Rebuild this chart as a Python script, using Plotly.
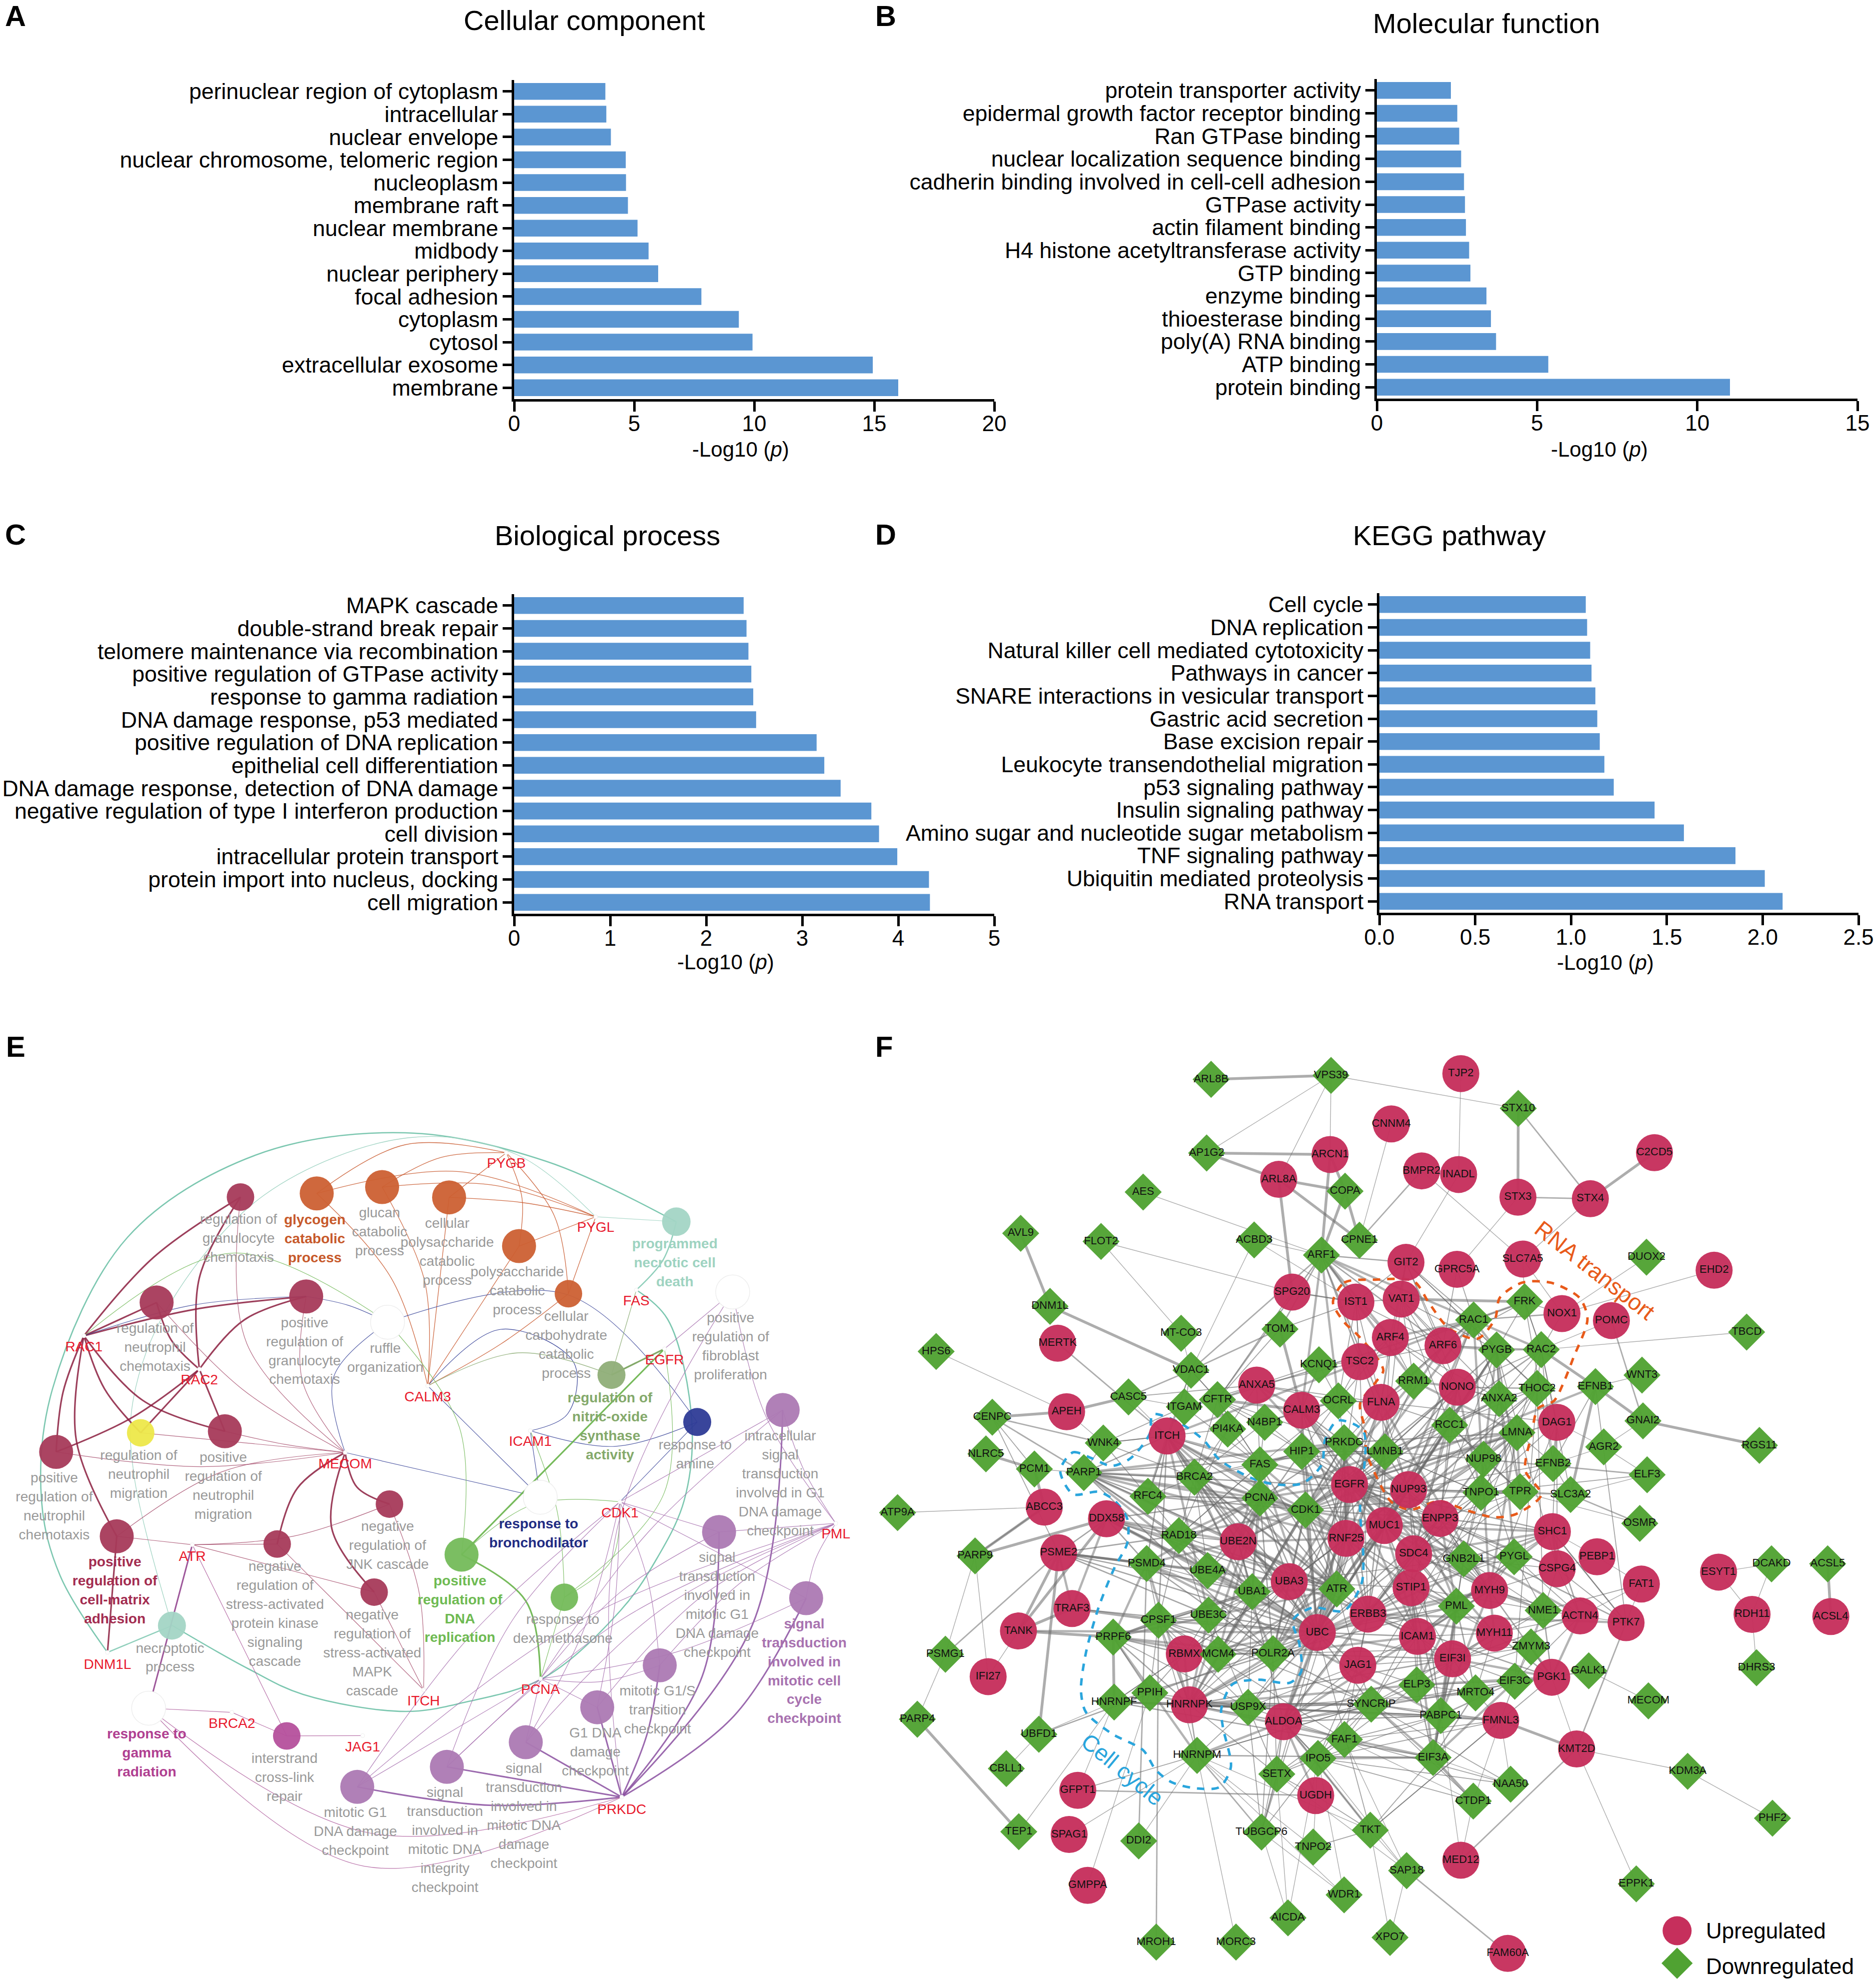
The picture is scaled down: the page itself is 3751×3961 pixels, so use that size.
import plotly.graph_objects as go

W, H = 3751, 3961
FONT = "Liberation Sans"

# ---------------- bar chart data ----------------
A_CATS = ["perinuclear region of cytoplasm", "intracellular", "nuclear envelope", "nuclear chromosome, telomeric region",
          "nucleoplasm", "membrane raft", "nuclear membrane", "midbody", "nuclear periphery", "focal adhesion",
          "cytoplasm", "cytosol", "extracellular exosome", "membrane"]
A_VALS = [3.8, 3.84, 4.03, 4.65, 4.66, 4.74, 5.14, 5.6, 6.0, 7.8, 9.36, 9.93, 14.94, 16.0]
B_CATS = ["protein transporter activity", "epidermal growth factor receptor binding", "Ran GTPase binding",
          "nuclear localization sequence binding", "cadherin binding involved in cell-cell adhesion", "GTPase activity",
          "actin filament binding", "H4 histone acetyltransferase activity", "GTP binding", "enzyme binding",
          "thioesterase binding", "poly(A) RNA binding", "ATP binding", "protein binding"]
B_VALS = [2.31, 2.51, 2.57, 2.63, 2.72, 2.75, 2.78, 2.88, 2.92, 3.42, 3.56, 3.72, 5.35, 11.02]
C_CATS = ["MAPK cascade", "double-strand break repair", "telomere maintenance via recombination",
          "positive regulation of GTPase activity", "response to gamma radiation", "DNA damage response, p53 mediated",
          "positive regulation of DNA replication", "epithelial cell differentiation",
          "DNA damage response, detection of DNA damage", "negative regulation of type I interferon production",
          "cell division", "intracellular protein transport", "protein import into nucleus, docking", "cell migration"]
C_VALS = [2.39, 2.42, 2.44, 2.47, 2.49, 2.52, 3.15, 3.23, 3.40, 3.72, 3.80, 3.99, 4.32, 4.33]
D_CATS = ["Cell cycle", "DNA replication", "Natural killer cell mediated cytotoxicity", "Pathways in cancer",
          "SNARE interactions in vesicular transport", "Gastric acid secretion", "Base excision repair",
          "Leukocyte transendothelial migration", "p53 signaling pathway", "Insulin signaling pathway",
          "Amino sugar and nucleotide sugar metabolism", "TNF signaling pathway", "Ubiquitin mediated proteolysis",
          "RNA transport"]
D_VALS = [1.077, 1.084, 1.10, 1.107, 1.127, 1.137, 1.15, 1.174, 1.223, 1.436, 1.589, 1.858, 2.011, 2.104]

# ---------------- network layouts ----------------
CROPS = {"z1": (0, 2050, 1000, 950), "z2": (850, 2150, 950, 900), "z3": (0, 2950, 1000, 1011), "z4": (800, 3000, 1000, 961),
         "z5": (1750, 2080, 1000, 950), "z6": (2750, 2080, 1000, 950), "z7": (1750, 3000, 1000, 961), "z8": (2750, 3000, 1000, 961)}


def at(c, x, y):
    ox, oy, w, h = CROPS[c]
    return ox + x * w / 1568, oy + y * h / 1568


MAROON, ORANGE, TEAL, PURPLE, GREEN, OLIVE = "#A63A5A", "#CC6033", "#A3D5C5", "#AC79B3", "#74BA5A", "#8FAE78"
E_TERMS = [
    ("regGran", "z1", 754, 567, 55, MAROON), ("glycogen", "z1", 993, 555, 68, ORANGE), ("glucan", "z1", 1198, 534, 68, ORANGE),
    ("cellPoly", "z1", 1408, 568, 68, ORANGE), ("poly", "z2", 310, 595, 68, ORANGE), ("carbo", "z2", 473, 761, 55, ORANGE),
    ("necrotic", "z2", 829, 510, 57, TEAL), ("fibro", "z2", 1015, 755, 68, "#FFFFFF"), ("nitric", "z2", 615, 1044, 56, OLIVE),
    ("amine", "z2", 898, 1208, 56, "#2E3B96"), ("intra", "z2", 1180, 1166, 68, PURPLE), ("broncho", "z2", 380, 1470, 68, "#FFFFFF"),
    ("regNeuChem", "z1", 491, 915, 68, MAROON), ("posGran", "z1", 960, 895, 68, MAROON), ("ruffle", "z1", 1215, 980, 68, "#FFFFFF"),
    ("posNeuChem", "z1", 176, 1408, 68, MAROON), ("yellow", "z1", 441, 1345, 55, "#EDE84A"), ("posNeuMig", "z1", 705, 1340, 68, MAROON),
    ("matrix", "z3", 366, 189, 68, MAROON), ("kinase", "z3", 869, 213, 55, MAROON), ("jnk", "z3", 1221, 89, 55, MAROON),
    ("mapk", "z3", 1173, 362, 55, MAROON), ("necro", "z3", 539, 466, 56, TEAL), ("gamma", "z3", 466, 722, 68, "#FFFFFF"),
    ("cross", "z3", 899, 808, 55, "#B5509C"), ("mG1", "z3", 1120, 966, 68, PURPLE), ("sigInt", "z3", 1401, 904, 68, PURPLE),
    ("dnaRep", "z3", 1447, 246, 68, GREEN), ("sigDmg", "z4", 394, 789, 68, PURPLE), ("g1dna", "z4", 618, 675, 68, PURPLE),
    ("g1s", "z4", 814, 538, 68, PURPLE), ("sigMG1", "z4", 1000, 103, 68, PURPLE), ("sigCC", "z4", 1273, 319, 68, PURPLE),
    ("dex", "z4", 515, 316, 55, GREEN),
]
E_GENES = [
    ("PYGB", "z2", 268, 270, 310), ("PYGL", "z2", 563, 493, 533), ("FAS", "z2", 697, 748, 790), ("EGFR", "z2", 790, 953, 995),
    ("ICAM1", "z2", 347, 1238, 1278), ("CDK1", "z2", 643, 1486, 1528), ("CALM3", "z1", 1341, 1190, 1230),
    ("RAC1", "z1", 263, 1025, 1065), ("RAC2", "z1", 625, 1135, 1174), ("MECOM", "z1", 1082, 1410, 1451),
    ("ATR", "z3", 603, 215, 254), ("ITCH", "z3", 1328, 665, 702), ("DNM1L", "z3", 337, 549, 589),
    ("BRCA2", "z3", 727, 735, 773), ("JAG1", "z3", 1137, 807, 845), ("PCNA", "z4", 440, 582, 620),
    ("PRKDC", "z4", 695, 968, 1012), ("PML", "z4", 1366, 75, 113),
]
GREY = "#999999"
E_LABELS = [
    ("regulation of|granulocyte|chemotaxis", "z1", 748, 644, GREY, 0), ("glycogen|catabolic|process", "z1", 987, 646, "#C7592A", 1),
    ("glucan|catabolic|process", "z1", 1190, 623, GREY, 0), ("cellular|polysaccharide|catabolic|process", "z1", 1402, 657, GREY, 0),
    ("polysaccharide|catabolic|process", "z2", 304, 688, GREY, 0), ("cellular|carbohydrate|catabolic|process", "z2", 466, 843, GREY, 0),
    ("programmed|necrotic cell|death", "z2", 824, 591, "#9ED3C1", 1),
    ("positive|regulation of|fibroblast|proliferation", "z2", 1008, 849, GREY, 0),
    ("regulation of|nitric-oxide|synthase|activity", "z2", 610, 1127, "#84A96B", 1),
    ("response to|amine", "z2", 891, 1291, GREY, 0),
    ("intracellular|signal|transduction|involved in G1|DNA damage|checkpoint", "z2", 1172, 1260, GREY, 0),
    ("regulation of|neutrophil|chemotaxis", "z1", 486, 1004, GREY, 0),
    ("positive|regulation of|granulocyte|chemotaxis", "z1", 955, 985, GREY, 0),
    ("ruffle|organization", "z1", 1208, 1069, GREY, 0),
    ("positive|regulation of|neutrophil|chemotaxis", "z3", 170, 11, GREY, 0),
    ("regulation of|neutrophil|migration", "z1", 435, 1423, GREY, 0),
    ("positive|regulation of|neutrophil|migration", "z1", 700, 1430, GREY, 0),
    ("positive|regulation of|cell-matrix|adhesion", "z3", 360, 272, "#A32C50", 1),
    ("negative|regulation of|stress-activated|protein kinase|signaling|cascade", "z3", 862, 286, GREY, 0),
    ("negative|regulation of|JNK cascade", "z3", 1215, 161, GREY, 0),
    ("negative|regulation of|stress-activated|MAPK|cascade", "z3", 1167, 436, GREY, 0),
    ("necroptotic|process", "z3", 533, 539, GREY, 0),
    ("response to|gamma|radiation", "z3", 460, 805, "#B04091", 1),
    ("interstrand|cross-link|repair", "z3", 892, 881, GREY, 0),
    ("mitotic G1|DNA damage|checkpoint", "z3", 1114, 1048, GREY, 0),
    ("signal|transduction|involved in|mitotic DNA|integrity|checkpoint", "z3", 1395, 987, GREY, 0),
    ("positive|regulation of|DNA|replication", "z3", 1442, 330, "#6EBA52", 1),
    ("signal|transduction|involved in|mitotic DNA|damage|checkpoint", "z4", 388, 878, GREY, 0),
    ("G1 DNA|damage|checkpoint", "z4", 612, 762, GREY, 0),
    ("mitotic G1/S|transition|checkpoint", "z4", 807, 625, GREY, 0),
    ("signal|transduction|involved in|mitotic G1|DNA damage|checkpoint", "z4", 994, 190, GREY, 0),
    ("signal|transduction|involved in|mitotic cell|cycle|checkpoint", "z4", 1267, 406, "#A872B0", 1),
    ("response to|dexamethasone", "z4", 510, 392, GREY, 0),
    ("response to|bronchodilator", "z4", 434, 80, "#1F2C83", 1),
]
# (from, to, bend as a share of the chord, group)
E_EDGES = [
    ("RAC1", "regGran", .06, "rt"), ("RAC1", "regNeuChem", 0, "rt"), ("RAC1", "posGran", .03, "rt"), ("RAC1", "posNeuChem", -.06, "rt"),
    ("RAC1", "matrix", -.12, "rt"), ("RAC1", "yellow", -.08, "rt"), ("RAC1", "posNeuMig", -.12, "rt"),
    ("RAC2", "regGran", .12, "rt"), ("RAC2", "regNeuChem", .1, "rt"), ("RAC2", "posGran", .12, "rt"), ("RAC2", "posNeuChem", .05, "rt"),
    ("RAC2", "yellow", 0, "rt"), ("RAC2", "posNeuMig", 0, "rt"), ("DNM1L", "matrix", 0, "rt"),
    ("MECOM", "kinase", -.15, "rt"), ("MECOM", "jnk", -.2, "rt"), ("MECOM", "mapk", -.2, "rt"),
    ("MECOM", "regGran", .18, "r"), ("MECOM", "regNeuChem", .06, "r"), ("MECOM", "posGran", .15, "r"), ("MECOM", "posNeuChem", .05, "r"),
    ("MECOM", "yellow", 0, "r"), ("MECOM", "posNeuMig", .02, "r"), ("MECOM", "matrix", -.1, "r"),
    ("ATR", "kinase", 0, "r"), ("ATR", "jnk", -.06, "r"), ("ATR", "matrix", 0, "r"), ("ATR", "mapk", 0, "r"),
    ("ITCH", "kinase", 0, "r"), ("ITCH", "jnk", -.07, "r"), ("ITCH", "mapk", 0, "r"),
    ("glycogen", "PYGB", .15, "o"), ("glycogen", "PYGL", .12, "o"), ("glucan", "PYGB", .1, "o"), ("glucan", "PYGL", .08, "o"),
    ("cellPoly", "PYGB", 0, "o"), ("cellPoly", "PYGL", .03, "o"), ("poly", "PYGB", -.1, "o"), ("poly", "PYGL", 0, "o"),
    ("carbo", "PYGB", -.12, "o"), ("carbo", "PYGL", 0, "o"), ("glycogen", "CALM3", .1, "o"), ("glucan", "CALM3", .1, "o"),
    ("cellPoly", "CALM3", 0, "o"), ("poly", "CALM3", 0, "o"), ("carbo", "CALM3", .03, "o"),
    ("RAC1", "posGran", .05, "n"), ("posGran", "ruffle", .05, "n"), ("ruffle", "MECOM", -.25, "n"), ("ruffle", "amine", .25, "n"),
    ("ICAM1", "amine", -.12, "n"), ("CDK1", "amine", 0, "n"), ("ICAM1", "broncho", 0, "n"), ("CALM3", "broncho", 0, "n"), ("MECOM", "broncho", 0, "n"),
    ("RAC1", "ruffle", .25, "g"), ("ruffle", "dnaRep", .15, "g"), ("CALM3", "nitric", .15, "ol"), ("nitric", "EGFR", 0, "olt"),
    ("FAS", "nitric", 0, "ol"), ("EGFR", "dnaRep", 0, "gt"), ("EGFR", "dex", .2, "g"), ("ICAM1", "dex", .06, "g"),
    ("CDK1", "dnaRep", -.15, "g"), ("PCNA", "dnaRep", -.2, "gt"), ("PCNA", "dex", 0, "g"), ("CDK1", "dex", .2, "g"),
    ("DNM1L", "necro", 0, "tm"), ("PYGL", "necrotic", 0, "tl"), ("FAS", "necrotic", -.1, "tm"),
    ("PRKDC", "intra", -.13, "pt"), ("PRKDC", "sigMG1", -.12, "pt"), ("PRKDC", "sigCC", -.1, "pt"), ("PRKDC", "g1s", -.05, "pt"),
    ("PRKDC", "g1dna", 0, "pt"), ("PRKDC", "sigDmg", 0, "pt"), ("PRKDC", "sigInt", 0, "pt"), ("PRKDC", "mG1", .05, "pt"),
    ("CDK1", "intra", 0, "p"), ("CDK1", "sigMG1", 0, "p"), ("CDK1", "sigCC", 0, "p"), ("CDK1", "g1s", .05, "p"), ("CDK1", "g1dna", .03, "p"),
    ("CDK1", "sigDmg", .05, "p"), ("CDK1", "sigInt", -.08, "p"), ("CDK1", "mG1", -.05, "p"),
    ("PCNA", "intra", .05, "p"), ("PCNA", "sigMG1", .07, "p"), ("PCNA", "sigCC", -.05, "p"), ("PCNA", "g1s", -.08, "p"), ("PCNA", "g1dna", 0, "p"),
    ("PCNA", "sigDmg", 0, "p"), ("PCNA", "sigInt", 0, "p"), ("PCNA", "mG1", 0, "p"),
    ("PML", "intra", .05, "p"), ("PML", "sigMG1", 0, "p"), ("PML", "sigCC", -.07, "p"), ("PML", "g1s", -.06, "p"), ("PML", "g1dna", -.08, "p"),
    ("PML", "sigDmg", -.08, "p"), ("PML", "sigInt", -.07, "p"), ("PML", "mG1", -.07, "p"),
    ("fibro", "EGFR", 0, "p"), ("fibro", "PML", -.08, "p"), ("fibro", "PRKDC", -.12, "p"),
    ("ATR", "gamma", 0, "mt"), ("ATR", "cross", 0, "m"), ("BRCA2", "gamma", 0, "m"), ("BRCA2", "cross", 0, "m"), ("JAG1", "cross", 0, "m"),
    ("gamma", "PRKDC", -.17, "m"), ("gamma", "PRKDC", -.24, "m"),
]
E_STYLE = {"rt": ("#8B1E3F", 3.2), "r": ("#A8506F", 1.2), "o": ("#C8562A", 1.3), "n": ("#3A4599", 1.2), "g": ("#74BA5A", 1.2),
           "gt": ("#5FAF3F", 3.2), "ol": ("#8FAE78", 1.3), "olt": ("#6E9B50", 3.2), "tm": ("#7CC7B0", 2.5), "tl": ("#A3D5C5", 1.2),
           "pt": ("#8A4FA0", 3.0), "p": ("#A872B0", 1.2), "mt": ("#8E3B8A", 3.0), "m": ("#B0609F", 1.2)}
# long arcs that need several way-points
E_ARCS = [
    ("#7CC7B0", 2.6, [(215, 3304), (120, 3150), (83, 3000), (105, 2777), (255, 2474), (510, 2310), (810, 2265), (1092, 2322), (1352, 2443)]),
    ("#A3D5C5", 1.3, [(344, 3250), (268, 2950), (265, 2807), (332, 2620), (529, 2389), (816, 2275), (1032, 2308), (1191, 2433)]),
    ("#7CC7B0", 2.6, [(1272, 2579), (1335, 2638), (1383, 2839), (1368, 3000), (1310, 3122), (1240, 3221), (1087, 3355), (928, 3404),
                      (810, 3422), (606, 3388), (497, 3337), (344, 3250)]),
    ("#3A4599", 1.2, [(855, 2771), (1001, 2658), (1147, 2724), (1135, 2827), (1060, 2861)]),
]

F_NODES = {
    "z5": [("ARL8B", 1053, 129, "d"), ("VPS39", 1429, 116, "d"), ("AP1G2", 1039, 372, "d"), ("ARCN1", 1426, 377, "c"), ("ARL8A", 1265, 459, "c"),
           ("COPA", 1473, 498, "d"), ("AES", 840, 501, "d"), ("AVL9", 456, 637, "d"), ("FLOT2", 708, 664, "d"), ("ACBD3", 1188, 659, "d"),
           ("CPNE1", 1518, 660, "d"), ("ARF1", 1399, 709, "d"), ("SPG20", 1307, 831, "c"), ("IST1", 1507, 864, "c"), ("DNM1L", 548, 878, "d"),
           ("MT-CO3", 959, 967, "d"), ("TOM1", 1269, 953, "d"), ("MERTK", 572, 1000, "c"), ("HPS6", 191, 1027, "d"), ("TSC2", 1519, 1061, "c"),
           ("KCNQ1", 1391, 1071, "d"), ("VDAC1", 990, 1089, "d"), ("ANXA5", 1196, 1138, "c"), ("CASC5", 794, 1177, "d"), ("CFTR", 1073, 1186, "d"),
           ("OCRL", 1452, 1190, "d"), ("ITGAM", 969, 1210, "d"), ("APEH", 600, 1226, "c"), ("CALM3", 1337, 1221, "c"), ("CENPC", 367, 1244, "d"),
           ("N4BP1", 1221, 1261, "d"), ("PI4KA", 1105, 1283, "d"), ("ITCH", 915, 1306, "c"), ("WNK4", 715, 1329, "d"), ("PRKDC", 1470, 1328, "d"),
           ("HIP1", 1337, 1357, "d"), ("NLRC5", 347, 1365, "d"), ("FAS", 1206, 1401, "d"), ("PCM1", 499, 1415, "d"), ("PARP1", 654, 1427, "d"),
           ("BRCA2", 1001, 1442, "d"), ("EGFR", 1487, 1466, "c"), ("RFC4", 855, 1505, "d"), ("PCNA", 1206, 1511, "d"), ("CDK1", 1349, 1550, "d")],
    "z7": [("ABCC3", 530, 22, "c"), ("ATP9A", 70, 40, "d"), ("DDX58", 725, 60, "c"), ("RAD18", 952, 115, "d"), ("UBE2N", 1138, 135, "c"),
           ("RNF25", 1476, 124, "c"), ("PSME2", 575, 171, "c"), ("PARP9", 313, 181, "d"), ("PSMD4", 851, 206, "d"), ("UBE4A", 1042, 229, "d"),
           ("UBA3", 1298, 265, "c"), ("ATR", 1447, 289, "d"), ("UBA1", 1182, 298, "d"), ("TRAF3", 617, 353, "c"), ("CPSF1", 888, 391, "d"),
           ("UBE3C", 1045, 374, "d"), ("TANK", 449, 426, "c"), ("UBC", 1386, 431, "c"), ("ERBB3", 1545, 371, "c"), ("PRPF6", 746, 446, "d"),
           ("RBMX", 969, 501, "c"), ("MCM4", 1075, 502, "d"), ("POLR2A", 1247, 500, "d"), ("PSMG1", 220, 502, "d"), ("JAG1", 1513, 538, "c"),
           ("IFI27", 354, 575, "c"), ("PPIH", 861, 628, "d"), ("HNRNPF", 749, 658, "d"), ("HNRNPK", 985, 667, "c"), ("USP9X", 1169, 675, "d"),
           ("SYNCRIP", 1555, 665, "d"), ("PARP4", 132, 714, "d"), ("ALDOA", 1280, 722, "c"), ("UBFD1", 513, 763, "d"), ("FAF1", 1471, 780, "d"),
           ("IPO5", 1388, 842, "d"), ("HNRNPM", 1009, 832, "d"), ("CBLL1", 411, 875, "d"), ("SETX", 1259, 893, "d"), ("GFPT1", 635, 946, "c"),
           ("UGDH", 1381, 963, "c"), ("TEP1", 450, 1081, "d"), ("TKT", 1552, 1076, "d"), ("TUBGCP6", 1211, 1082, "d"), ("SPAG1", 608, 1090, "c"),
           ("DDI2", 826, 1111, "d"), ("TNPO2", 1373, 1131, "d"), ("GMPPA", 666, 1256, "c"), ("WDR1", 1470, 1287, "d"), ("AICDA", 1294, 1362, "d"),
           ("MROH1", 881, 1441, "d"), ("MORC3", 1131, 1441, "d")],
    "z6": [("TJP2", 268, 110, "c"), ("STX10", 448, 225, "d"), ("CNNM4", 50, 276, "c"), ("C2CD5", 875, 371, "c"), ("BMPR2", 145, 431, "c"),
           ("INADL", 261, 443, "c"), ("STX3", 447, 518, "c"), ("STX4", 674, 523, "c"), ("DUOX2", 850, 716, "d"), ("GIT2", 96, 733, "c"),
           ("EHD2", 1062, 759, "c"), ("GPRC5A", 256, 756, "c"), ("SLC7A5", 462, 722, "c"), ("VAT1", 81, 854, "c"), ("FRK", 468, 863, "d"),
           ("NOX1", 585, 902, "c"), ("RAC1", 308, 923, "d"), ("POMC", 740, 925, "c"), ("TBCD", 1164, 963, "d"), ("ARF4", 47, 981, "c"),
           ("ARF6", 212, 1008, "c"), ("PYGB", 380, 1022, "d"), ("RAC2", 520, 1021, "d"), ("WNT3", 836, 1105, "d"), ("RRM1", 120, 1125, "d"),
           ("NONO", 257, 1145, "c"), ("EFNB1", 690, 1143, "d"), ("THOC2", 507, 1149, "d"), ("ANXA2", 388, 1183, "d"), ("FLNA", 18, 1195, "c"),
           ("RCC1", 233, 1270, "d"), ("GNAI2", 839, 1256, "d"), ("DAG1", 569, 1261, "c"), ("LMNA", 444, 1295, "d"), ("AGR2", 716, 1342, "d"),
           ("RGS11", 1204, 1337, "d"), ("NUP98", 339, 1383, "d"), ("LMNB1", 30, 1358, "d"), ("EFNB2", 557, 1397, "d"), ("ELF3", 852, 1434, "d"),
           ("NUP93", 104, 1483, "c"), ("TNPO1", 331, 1493, "d"), ("TPR", 454, 1490, "d"), ("SLC3A2", 612, 1499, "d")],
    "z8": [("OSMR", 829, 75, "d"), ("ENPP3", 203, 59, "c"), ("MUC1", 28, 82, "c"), ("SHC1", 555, 102, "c"), ("SDC4", 120, 174, "c"),
           ("PEBP1", 695, 184, "c"), ("PYGL", 435, 184, "d"), ("GNB2L1", 277, 191, "d"), ("ESYT1", 1076, 234, "c"), ("DCAKD", 1242, 207, "d"),
           ("ACSL5", 1418, 207, "d"), ("CSPG4", 570, 223, "c"), ("FAT1", 834, 273, "c"), ("STIP1", 112, 285, "c"), ("MYH9", 358, 294, "c"),
           ("PML", 254, 345, "d"), ("NME1", 526, 359, "d"), ("RDH11", 1181, 372, "c"), ("ACTN4", 642, 377, "c"), ("ACSL4", 1428, 379, "c"),
           ("PTK7", 786, 399, "c"), ("MYH11", 373, 433, "c"), ("ICAM1", 132, 444, "c"), ("ZMYM3", 488, 478, "d"), ("EIF3I", 242, 517, "c"),
           ("DHRS3", 1195, 546, "d"), ("GALK1", 669, 556, "d"), ("PGK1", 553, 577, "c"), ("EIF3C", 437, 590, "d"), ("ELP3", 130, 602, "d"),
           ("MRTO4", 314, 628, "d"), ("MECOM", 856, 654, "d"), ("PABPC1", 205, 702, "d"), ("FMNL3", 393, 718, "c"), ("KMT2D", 631, 811, "c"),
           ("EIF3A", 181, 839, "d"), ("KDM3A", 979, 884, "d"), ("NAA50", 424, 926, "d"), ("CTDP1", 307, 981, "d"), ("PHF2", 1245, 1037, "d"),
           ("MED12", 268, 1174, "c"), ("SAP18", 98, 1208, "d"), ("EPPK1", 818, 1251, "d"), ("XPO7", 46, 1426, "d"), ("FAM60A", 415, 1478, "c")],
}
F_THICK = """AVL9:DNM1L AP1G2:ARCN1 AP1G2:ARL8A ARL8A:COPA ARL8A:SPG20 ARL8A:CPNE1 ARCN1:ARF1 ARCN1:COPA COPA:ARF1 COPA:CPNE1
ARL8B:VPS39 STX10:STX3 STX4:C2CD5 DNM1L:VDAC1 CENPC:APEH APEH:CASC5 CFTR:CALM3 TOM1:CALM3 PARP9:DDX58 PARP9:ABCC3 PARP4:TEP1
TANK:PRPF6 TANK:TRAF3 TANK:DDX58 TANK:PSME2 TRAF3:CPSF1 PRPF6:HNRNPF GNAI2:RGS11 ACSL5:ACSL4 FMNL3:KMT2D NLRC5:PCM1 ABCC3:PCM1
RAC2:EFNB1 EFNB1:GNAI2 EFNB1:SLC3A2 PML:EIF3A EIF3A:CTDP1 HNRNPK:USP9X HNRNPK:SYNCRIP UBC:UBA3 UBC:EGFR EGFR:CDK1 VAT1:FRK UBFD1:PSME2"""
F_MEDIUM = """STX10:STX4 STX3:STX4 BMPR2:CPNE1 POMC:GNAI2 CENPC:WNK4 CENPC:PARP1 ABCC3:PARP9 VDAC1:CASC5 VDAC1:TOM1 MERTK:ITCH GFPT1:UGDH SAP18:FAM60A
DDI2:PSMD4 MROH1:CPSF1 GALK1:PGK1 DAG1:EFNB2 ELF3:NUP98 OSMR:SLC3A2 TUBGCP6:HNRNPM KMT2D:MED12 KMT2D:PTK7 PSMG1:PSME2 SPG20:IST1 ARF1:TOM1 ARF1:IST1 ARF1:VDAC1"""
F_THIN = """VPS39:AP1G2 VPS39:ARL8A VPS39:ARCN1 VPS39:STX10 TJP2:INADL CNNM4:CPNE1 INADL:GIT2 BMPR2:SLC7A5 STX3:GPRC5A STX4:SLC7A5 SLC7A5:FRK SLC7A5:NOX1
NOX1:EHD2 NOX1:DUOX2 TBCD:RAC2 POMC:RAC2 WNT3:EFNB1 GNAI2:AGR2 AGR2:ELF3 AGR2:EFNB2 ELF3:SLC3A2 OSMR:TPR DAG1:AGR2 ESYT1:DCAKD ESYT1:RDH11 DCAKD:RDH11 RDH11:DHRS3
MECOM:GALK1 KMT2D:PGK1 KMT2D:KDM3A KDM3A:PHF2 KMT2D:EPPK1 FAT1:PTK7 FAT1:PEBP1 FAT1:ACTN4 PTK7:ACTN4 PEBP1:SHC1 PEBP1:CSPG4 CTDP1:MED12 SAP18:XPO7 SAP18:TKT
NAA50:FMNL3 NAA50:EIF3A FMNL3:CTDP1 HPS6:APEH APEH:WNK4 CASC5:ITGAM CASC5:ITCH FLOT2:SPG20 FLOT2:MT-CO3 MT-CO3:VDAC1 AES:ARF1 ACBD3:ARF1 ACBD3:VDAC1 ACBD3:IST1
ABCC3:ATP9A PCM1:PARP1 PARP9:PSMG1 PARP9:IFI27 PSMG1:PARP4 TANK:IFI27 UBFD1:CBLL1 UBFD1:HNRNPF TEP1:HNRNPF GFPT1:HNRNPF SPAG1:HNRNPM GMPPA:PPIH DDI2:HNRNPM MORC3:HNRNPM
AICDA:SETX AICDA:IPO5 AICDA:TUBGCP6 WDR1:TUBGCP6 WDR1:HNRNPM TNPO2:HNRNPM TNPO2:IPO5 TKT:HNRNPM SAP18:IPO5 SAP18:SETX SAP18:FAF1 MED12:PABPC1 CTDP1:FAF1 WDR1:IPO5 XPO7:TKT"""
# hub : partners in the dense core
F_CORE_MED = {
    "UBC": "UBA1 UBE2N UBE4A UBE3C ATR RNF25 CDK1 PCNA ERBB3 JAG1 POLR2A USP9X ALDOA HNRNPK RBMX MCM4 MUC1 SDC4 STIP1 ICAM1 EIF3I SYNCRIP PSMD4 RAD18 FAS BRCA2 ITCH TRAF3 DDX58 PSME2 CPSF1 PML MYH9 PRKDC NUP93 ENPP3 LMNB1 RCC1 HIP1 UBFD1 TANK PARP1",
    "EGFR": "PCNA ERBB3 NUP93 MUC1 SDC4 SHC1 ICAM1 CALM3 ANXA5 FLNA RAC1 RAC2 ARF6 ANXA2 LMNA CSPG4 ACTN4 DAG1 EFNB1 PTK7 RNF25 ATR UBE2N HIP1 PRKDC FAS ITCH ENPP3 GNB2L1 PYGB UBA3 POLR2A MYH9 PML",
    "CDK1": "PCNA ATR BRCA2 RFC4 PARP1 PRKDC RAD18 LMNB1 LMNA NUP93 UBA3 ERBB3 HNRNPK POLR2A FLNA PML MCM4 NONO RRM1 TPR ITCH UBE2N RNF25 ENPP3 MUC1",
    "PCNA": "BRCA2 RFC4 RAD18 ATR PARP1 FAS UBA1 POLR2A MCM4 PRKDC HNRNPK ITCH UBE2N DDX58 PSMD4 UBA3 RNF25 UBE4A LMNB1",
    "HNRNPK": "HNRNPF HNRNPM RBMX PRPF6 PPIH ALDOA POLR2A PABPC1 EIF3A UBA3 MCM4 FMNL3 ELP3 CPSF1 PSMD4 ERBB3 UBE3C EIF3I",
    "POLR2A": "ATR HNRNPF PRPF6 SYNCRIP BRCA2 CPSF1 UBA3 PARP1 RBMX PSMD4 ICAM1 EIF3I RNF25 PML",
    "ALDOA": "HNRNPM PABPC1 MYH9 PGK1 TKT SETX FLNA ACTN4 UGDH IPO5 ATR UBE2N ERBB3",
    "EIF3A": "EIF3C EIF3I PABPC1 MRTO4 SYNCRIP HNRNPM IPO5 ELP3 STIP1 HNRNPF",
    "PABPC1": "PML SYNCRIP EIF3I EIF3C FMNL3 STIP1 PSMD4 HNRNPF MYH9 NUP93",
    "MYH9": "MYH11 ACTN4 FLNA CALM3 NME1 ICAM1 ERBB3 PGK1 LMNA ENPP3 MUC1 SDC4 RAC1",
    "PYGB": "RAC1 RAC2 ARF6 ANXA2 PYGL THOC2 NUP98 TPR UBC ATR MUC1",
    "ARF1": "ARF4 ARF6 VAT1 GIT2 RAC1 CFTR CALM3 FLNA OCRL NUP93 RRM1",
    "ITCH": "RFC4 PSMD4 UBE2N UBA1 UBE3C CPSF1 RNF25 PARP1 BRCA2 UBA3 ATR",
    "PARP1": "BRCA2 RFC4 PRKDC RAD18 UBE4A NUP93 ATR LMNB1 RNF25 UBE2N",
    "DDX58": "TRAF3 PSME2 UBE2N RAD18 UBE4A PSMD4 UBA1 UBA3 ATR",
    "PSME2": "PSMD4 UBA1 TRAF3 RAD18 UBE4A UBE3C UBA3",
    "LMNA": "LMNB1 NUP98 TPR TNPO1 ANXA2 PRKDC RRM1 ERBB3 MUC1",
    "NUP93": "NUP98 TPR TNPO1 LMNB1 RCC1 SDC4 PML ENPP3 ATR UBA3 RNF25",
    "SHC1": "ERBB3 PTK7 CSPG4 ACTN4 MUC1 GNB2L1 SDC4 ENPP3 PML",
    "PGK1": "ZMYM3 EIF3C ELP3 NME1 ACTN4 ERBB3 EIF3I MYH11",
    "RAC1": "RAC2 NOX1 FRK ARF6 ITCH CFTR FLNA ANXA2 ARF4 NUP93 MUC1",
    "CALM3": "OCRL N4BP1 HIP1 PRKDC ANXA5 KCNQ1 MYH11 RNF25 MUC1 UBC",
    "PRPF6": "PSMD4 RBMX HNRNPM PPIH MCM4 CPSF1 UBA1 UBA3 ATR",
    "NONO": "RRM1 ANXA2 SDC4 THOC2 TNPO1 ENPP3 MUC1 UBA3",
    "ATR": "UBE2N RNF25 MUC1 ERBB3 BRCA2 FAS HIP1 LMNB1 MCM4 RAD18 UBA1 PRKDC",
    "ERBB3": "RNF25 MUC1 SDC4 STIP1 ICAM1 JAG1 UBA3 UBE2N PTK7 ENPP3 MYH11 LMNB1",
    "MUC1": "RNF25 SDC4 ENPP3 STIP1 ICAM1 LMNB1 HIP1 NUP98 GNB2L1",
    "RNF25": "UBE2N UBA3 LMNB1 HIP1 FAS PRKDC STIP1 ICAM1 SDC4",
    "UBE2N": "UBA3 UBE4A UBE3C UBA1 PSMD4 HIP1 FAS",
    "PML": "STIP1 SDC4 ICAM1 EIF3I ELP3 MRTO4 ENPP3 GNB2L1",
    "PRKDC": "HIP1 LMNB1 FAS MCM4 NUP93 ENPP3 RNF25",
}
F_CORE_THIN = {
    "ANXA5": "TSC2 CFTR ITGAM PI4KA OCRL KCNQ1 FAS CASC5 FLNA",
    "TSC2": "KCNQ1 ARF6 OCRL ERBB3 UBC IST1",
    "GIT2": "ARF6 RAC1 VAT1 PYGB ARF4 FLNA NONO THOC2",
    "GPRC5A": "RAC1 ARF6",
    "VAT1": "RRM1 NONO LMNB1 ARF6 PYGB ANXA2 RCC1",
    "ARF4": "RRM1 NONO FLNA TSC2 LMNB1 ANXA2",
    "RCC1": "TNPO1 NUP98 TPR LMNB1 ANXA2 SDC4 MUC1 NONO ENPP3 FLNA",
    "THOC2": "SYNCRIP HNRNPK ALDOA EIF3C NME1 ANXA2 MUC1 NUP93 RCC1",
    "DAG1": "SHC1 CSPG4 SDC4 MYH9 FLNA RAC2",
    "GNB2L1": "STIP1 SDC4 PYGL MYH9 PML CSPG4 NME1 UBA3 ENPP3 ANXA2 TNPO1 LMNA",
    "PYGL": "MYH9 PML SHC1 ACTN4 ENPP3 NME1 ICAM1 STIP1 NUP98",
    "STIP1": "MYH11 EIF3I ELP3 SDC4 UBA3 ICAM1 PYGB",
    "ICAM1": "EIF3I ELP3 MRTO4 MYH11 JAG1 ERBB3 SYNCRIP",
    "MYH11": "EIF3I ZMYM3 ACTN4 NME1 PML MRTO4 ELP3 SYNCRIP",
    "ZMYM3": "EIF3C NME1 EIF3I POLR2A ELP3",
    "MRTO4": "ELP3 EIF3C FMNL3 SYNCRIP EIF3I USP9X",
    "JAG1": "ERBB3 SYNCRIP ELP3 ATR FAF1 ALDOA EIF3I IPO5 USP9X",
    "SYNCRIP": "USP9X FMNL3 ELP3 FAF1 IPO5 CTDP1 NAA50 HNRNPM HNRNPF GFPT1 SETX ALDOA",
    "FAF1": "IPO5 SETX USP9X ALDOA ELP3 PABPC1 NAA50 FMNL3 CPSF1",
    "IPO5": "SETX CTDP1 TNPO1 FMNL3 ALDOA PABPC1 NAA50",
    "USP9X": "HNRNPM PPIH HNRNPF ATR UBA1 SETX PRPF6 UBE3C CPSF1",
    "UBA3": "UBA1 UBE2N ATR RBMX RNF25 UBE3C MCM4 HNRNPF",
    "UBA1": "UBE2N UBE4A UBE3C RAD18 PSMD4 CPSF1 MCM4 RBMX FAS",
    "RAD18": "UBE2N UBE4A RFC4 BRCA2 MCM4 FAS PI4KA",
    "FAS": "N4BP1 HIP1 PI4KA CFTR ITGAM BRCA2 RAD18 OCRL ITCH",
    "BRCA2": "PI4KA RFC4 UBE2N PRKDC ATR UBE4A N4BP1",
    "CFTR": "ITGAM PI4KA N4BP1 HIP1 TOM1 VDAC1 SPG20 PRKDC BRCA2 FAS",
    "VDAC1": "ITGAM CFTR ITCH RFC4",
    "WNK4": "ITCH ITGAM PARP1 RFC4 PI4KA BRCA2",
    "CENPC": "PCM1 PSME2",
    "OCRL": "KCNQ1 HIP1 PRKDC FLNA LMNB1 N4BP1 IST1 ARF4",
    "IST1": "ARF4 TOM1 TSC2 SPG20 VAT1 FLNA ARF6 GIT2",
    "FLNA": "RRM1 LMNB1 OCRL ARF6 PRKDC NUP93",
    "RBMX": "MCM4 HNRNPF PPIH CPSF1 UBE3C POLR2A",
    "CPSF1": "PPIH PSMD4 UBE3C MCM4 HNRNPM SYNCRIP RAD18",
    "TUBGCP6": "ATR UBC ALDOA POLR2A SETX USP9X IPO5",
    "SETX": "POLR2A HNRNPK UGDH",
    "TKT": "PGK1 ALDOA UGDH TNPO2 EIF3A UBC FMNL3",
    "EIF3C": "EIF3I FMNL3 ELP3 SYNCRIP NME1 ACTN4",
    "CSPG4": "MYH9 ACTN4 NME1 PTK7 ENPP3 PYGB",
    "NME1": "ACTN4 ELP3 SDC4 FAT1 STIP1",
    "TNPO1": "NUP98 TPR SLC3A2 ELF3 SDC4 ANXA2 LMNB1",
    "TPR": "NUP98 SLC3A2 ANXA2 RCC1 ENPP3 SDC4",
    "EFNB2": "SLC3A2 EFNB1 TNPO1 LMNA ERBB3 NUP93",
    "RAC2": "SLC3A2 THOC2 ARF6 NOX1 FRK ANXA2 LMNA EFNB2 NONO",
    "FRK": "RAC1 PYGB NOX1 EFNB2 ARF6 RAC2",
    "PTK7": "SHC1 EFNB1",
    "LMNB1": "RRM1 HIP1 NUP98 TNPO1 ANXA2 NONO",
    "HIP1": "N4BP1 FAS LMNB1 ENPP3",
    "ENPP3": "SDC4 NUP98 TNPO1 MYH9",
}
RNA_LOOP = [("z5", 1435, 865), ("z5", 1470, 800), ("z5", 1568, 790), ("z6", 120, 795), ("z6", 170, 870), ("z6", 230, 950), ("z6", 320, 985),
            ("z6", 375, 920), ("z6", 390, 850), ("z6", 460, 800), ("z6", 550, 800), ("z6", 640, 850), ("z6", 665, 920), ("z6", 620, 1050),
            ("z6", 590, 1130), ("z6", 560, 1190), ("z6", 510, 1215), ("z6", 490, 1300), ("z6", 470, 1420), ("z6", 520, 1500), ("z8", 440, 45),
            ("z8", 370, 55), ("z8", 280, 30), ("z8", 200, 2), ("z8", 110, 30), ("z8", 50, 5), ("z6", -10, 1410), ("z5", 1540, 1360),
            ("z5", 1535, 1280), ("z5", 1520, 1200), ("z5", 1568, 1130), ("z6", 25, 1090), ("z6", 0, 1040), ("z5", 1510, 970), ("z5", 1470, 930), ("z5", 1435, 865)]
CELL_LOOP = [("z5", 580, 1420), ("z5", 620, 1360), ("z5", 680, 1380), ("z5", 740, 1405), ("z5", 800, 1380), ("z5", 860, 1300), ("z5", 870, 1235),
             ("z5", 950, 1260), ("z5", 1030, 1320), ("z5", 1080, 1385), ("z5", 1180, 1445), ("z5", 1250, 1465), ("z5", 1340, 1462), ("z5", 1400, 1400),
             ("z5", 1410, 1320), ("z5", 1450, 1255), ("z5", 1530, 1290), ("z7", 1520, 30), ("z7", 1530, 180), ("z7", 1525, 270), ("z7", 1470, 360),
             ("z7", 1370, 350), ("z7", 1310, 390), ("z7", 1330, 470), ("z7", 1335, 560), ("z7", 1300, 595), ("z7", 1200, 585), ("z7", 1120, 600),
             ("z7", 1085, 680), ("z7", 1090, 740), ("z7", 1115, 870), ("z7", 1080, 935), ("z7", 1010, 940), ("z7", 930, 920), ("z7", 880, 880),
             ("z7", 840, 815), ("z7", 740, 760), ("z7", 660, 690), ("z7", 645, 620), ("z7", 660, 500), ("z7", 700, 350), ("z7", 750, 220),
             ("z7", 790, 140), ("z7", 790, 60), ("z7", 750, 0), ("z5", 700, 1490), ("z5", 620, 1498), ("z5", 580, 1420)]

# ---------------- figure ----------------
fig = go.Figure()
PANELS = [("", "y", A_CATS, A_VALS, (1028, 1988), (160, 798), 20, 5, None),
          ("2", "y2", B_CATS, B_VALS, (2753, 3714), (158, 797), 15, 5, None),
          ("3", "y3", C_CATS, C_VALS, (1028, 1988), (1188, 1827), 5, 1, None),
          ("4", "y4", D_CATS, D_VALS, (2758, 3716), (1186, 1825), 2.5, 0.5, ".1f")]
layout = dict(width=W, height=H, margin=dict(l=0, r=0, t=0, b=0, pad=0), paper_bgcolor="white", plot_bgcolor="rgba(0,0,0,0)",
              showlegend=False, bargap=0.265, font=dict(family=FONT, color="black"), hovermode=False)
for sfx, ya, cats, vals, xd, yd, xmax, dt, fmt in PANELS:
    fig.add_trace(go.Bar(y=cats, x=vals, orientation="h", marker=dict(color="#5B96D2", line_width=0), xaxis="x" + sfx, yaxis="y" + sfx))
    layout["xaxis" + sfx] = dict(domain=[xd[0] / W, xd[1] / W], range=[0, xmax], anchor="y" + sfx, dtick=dt, tick0=0, tickformat=fmt, automargin=False,
                                 showgrid=False, zeroline=False, showline=True, linecolor="black", linewidth=4.5, ticks="outside",
                                 ticklen=20, tickwidth=4.5, tickcolor="black", tickfont=dict(size=44, family=FONT, color="black"),
                                 ticklabelstandoff=-14)
    layout["yaxis" + sfx] = dict(domain=[1 - yd[1] / H, 1 - yd[0] / H], autorange="reversed", anchor="x" + sfx, showgrid=False, zeroline=False, automargin=False,
                                 showline=True, linecolor="black", linewidth=4.5, ticks="outside", ticklen=18, tickwidth=4.5, tickcolor="black",
                                 tickfont=dict(size=44.5, family=FONT, color="black"), dtick=1, tick0=0)
layout["xaxis5"] = dict(domain=[0, 1], range=[0, W], anchor="y5", visible=False, fixedrange=True, automargin=False)
layout["yaxis5"] = dict(domain=[0, 1], range=[H, 0], anchor="x5", visible=False, fixedrange=True, automargin=False)


def ov(**k):
    fig.add_trace(go.Scatter(xaxis="x5", yaxis="y5", hoverinfo="skip", **k))


# --- panel E ---
e_pos = {k: at(c, x, y) for k, c, x, y, d, col in E_TERMS}
e_pos.update({g: at(c, x, y) for g, c, x, y, ly in E_GENES})
for col, w, pts in E_ARCS:
    ov(x=[p[0] for p in pts], y=[p[1] for p in pts], mode="lines", line=dict(color=col, width=w, shape="spline", smoothing=1))
for a, b, bend, grp in E_EDGES:
    (x0, y0), (x1, y1) = e_pos[a], e_pos[b]
    col, w = E_STYLE[grp]
    mx, my = (x0 + x1) / 2 + bend * (y1 - y0), (y0 + y1) / 2 - bend * (x1 - x0)
    ov(x=[x0, mx, x1], y=[y0, my, y1], mode="lines", opacity=0.85, line=dict(color=col, width=w, shape="spline", smoothing=1))
for k, c, x, y, d, col in E_TERMS:
    px, py = at(c, x, y)
    white = col == "#FFFFFF"
    ov(x=[px], y=[py], mode="markers", marker=dict(size=d, color=col, opacity=1 if white else 0.95,
                                                    line=dict(color="#EEEEEE" if white else col, width=1.5 if white else 0)))
ov(x=[at(c, x, y)[0] for g, c, x, y, ly in E_GENES], y=[at(c, x, y)[1] for g, c, x, y, ly in E_GENES], mode="markers",
   marker=dict(size=8, color="white", line=dict(color="#EEEEEE", width=1)))
for text, c, cx, y0, col, bold in E_LABELS:
    lines = text.split("|")
    px, py = at(c, cx, y0)
    ov(x=[px] * len(lines), y=[py + i * 37.9 for i in range(len(lines))], mode="text",
       text=[f"<b>{l}</b>" if bold else l for l in lines], textposition="middle center", textfont=dict(size=28, color=col, family=FONT))
ov(x=[at(c, x, ly)[0] for g, c, x, y, ly in E_GENES], y=[at(c, x, ly)[1] for g, c, x, y, ly in E_GENES], mode="text",
   text=[g for g, c, x, y, ly in E_GENES], textposition="middle center", textfont=dict(size=28, color="#E8192C", family=FONT))

# --- panel F ---
f_pos = {}
for c, items in F_NODES.items():
    for name, x, y, kind in items:
        f_pos[name] = at(c, x, y)


def edge_trace(pairs, width, alpha):
    xs, ys = [], []
    for a, b in pairs:
        xs += [f_pos[a][0], f_pos[b][0], None]
        ys += [f_pos[a][1], f_pos[b][1], None]
    ov(x=xs, y=ys, mode="lines", line=dict(color=f"rgba(105,105,105,{alpha})", width=width))


edge_trace([e.split(":") for e in F_THIN.split()], 1.4, 0.55)
edge_trace([e.split(":") for e in F_MEDIUM.split()], 2.8, 0.55)
edge_trace([e.split(":") for e in F_THICK.split()], 5.5, 0.55)
for hub, partners in F_CORE_THIN.items():
    edge_trace([(hub, p) for p in partners.split()], 1.8, 0.6)
for i, (hub, partners) in enumerate(F_CORE_MED.items()):
    plist = partners.split()
    edge_trace([(hub, p) for p in plist[0::2]], 4.5, 0.5)
    edge_trace([(hub, p) for p in plist[1::2]], 2.6, 0.6)
for loop, col in ((RNA_LOOP, "#E85A1A"), (CELL_LOOP, "#2AA5DC")):
    pts = [at(*p) for p in loop]
    ov(x=[p[0] for p in pts], y=[p[1] for p in pts], mode="lines", line=dict(color=col, width=5, dash="15px,14px", shape="spline", smoothing=0.8))
for kind, sym, size, col in (("c", "circle", 74, "#C62F5C"), ("d", "diamond", 57, "#50A232")):
    names = [n for items in F_NODES.values() for n, x, y, k in items if k == kind]
    ov(x=[f_pos[n][0] for n in names], y=[f_pos[n][1] for n in names], mode="markers+text", text=names, textposition="middle center",
       textfont=dict(size=22, color="#111111", family=FONT), marker=dict(symbol=sym, size=size, color=col, opacity=0.96, line_width=0))
# legend
lg1, lg2 = at("z8", 946, 1404), at("z8", 946, 1510)
ov(x=[lg1[0]], y=[lg1[1]], mode="markers", marker=dict(symbol="circle", size=58, color="#C62F5C", line_width=0))
ov(x=[lg2[0]], y=[lg2[1]], mode="markers", marker=dict(symbol="diamond", size=48, color="#50A232", line_width=0))

notes = []


def note(text, x, y, size, anchor="center", col="black", angle=0):
    notes.append(dict(text=text, x=x, y=y, xref="x5", yref="y5", showarrow=False, xanchor=anchor, yanchor="middle", textangle=angle,
                      font=dict(size=size, color=col, family=FONT)))


for t, x, y in (("A", 8, 31), ("B", 1748, 31), ("C", 8, 1068), ("D", 1748, 1068), ("E", 10, 2092), ("F", 1748, 2092)):
    note(f"<b>{t}</b>", x, y, 58, anchor="left")
for t, x, y in (("Cellular component", 1168, 40), ("Molecular function", 2972, 46), ("Biological process", 1214, 1070), ("KEGG pathway", 2898, 1070)):
    note(t, x, y, 56)
for x, y in ((1481, 898), (3198, 898), (1451, 1923), (3210, 1924)):
    note("-Log10 (<i>p</i>)", x, y, 42)
note("RNA transport", *at("z6", 688, 760), 46, col="#E85A1A", angle=38)
note("Cell cycle", *at("z7", 775, 878), 46, col="#2AA5DC", angle=39.5)
note("Upregulated", *at("z8", 1033, 1404), 44, anchor="left")
note("Downregulated", *at("z8", 1033, 1520), 44, anchor="left")
layout["annotations"] = notes
fig.update_layout(**layout)
fig.write_html("out.html", config={"displayModeBar": False}, post_script="document.body.style.margin='0';")
